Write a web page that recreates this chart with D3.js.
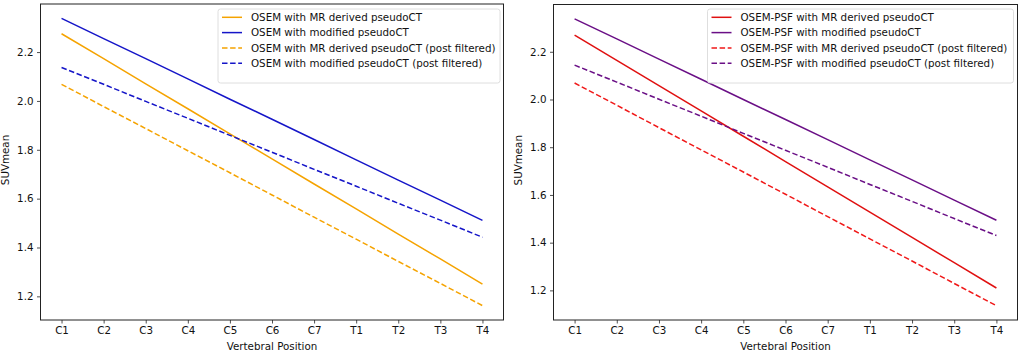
<!DOCTYPE html>
<html lang="en">
<head>
  <meta charset="UTF-8">
  <title>SUVmean by vertebral position</title>
  <script src="https://cdn.jsdelivr.net/npm/d3@7"></script>
  <style>
    body { margin: 0; background: #fff; }
    svg text { font-family: "DejaVu Sans", sans-serif; fill: #111; }
  </style>
</head>
<body>
<script>
  const positions = ["C1", "C2", "C3", "C4", "C5", "C6", "C7", "T1", "T2", "T3", "T4"];
  const yTicks = [1.2, 1.4, 1.6, 1.8, 2.0, 2.2];

  // left panel: OSEM
  const osemMR = [2.275, 2.173, 2.070, 1.968, 1.865, 1.763, 1.660, 1.558, 1.455, 1.353, 1.250];
  const osemMod = [2.338, 2.255, 2.173, 2.090, 2.007, 1.925, 1.842, 1.759, 1.676, 1.594, 1.511];
  const osemMRpf = [2.068, 1.977, 1.887, 1.796, 1.706, 1.615, 1.524, 1.434, 1.343, 1.253, 1.162];
  const osemModpf = [2.137, 2.068, 1.998, 1.929, 1.859, 1.790, 1.720, 1.651, 1.581, 1.512, 1.442];

  // right panel: OSEM-PSF
  const psfMR = [2.270, 2.164, 2.058, 1.952, 1.846, 1.740, 1.634, 1.528, 1.422, 1.316, 1.210];
  const psfMod = [2.338, 2.254, 2.169, 2.085, 2.000, 1.916, 1.832, 1.747, 1.663, 1.578, 1.494];
  const psfMRpf = [2.069, 1.976, 1.882, 1.789, 1.696, 1.603, 1.509, 1.416, 1.323, 1.229, 1.136];
  const psfModpf = [2.144, 2.073, 2.001, 1.930, 1.858, 1.787, 1.716, 1.644, 1.573, 1.501, 1.430];

  const leftSeries = [
    {name: "OSEM with MR derived pseudoCT", values: osemMR, color: "#f5a300", dash: null},
    {name: "OSEM with modified pseudoCT", values: osemMod, color: "#1515c8", dash: null},
    {name: "OSEM with MR derived pseudoCT (post filtered)", values: osemMRpf, color: "#f5a300", dash: "5.5,2.6"},
    {name: "OSEM with modified pseudoCT (post filtered)", values: osemModpf, color: "#1515c8", dash: "5.5,2.6"}
  ];
  const rightSeries = [
    {name: "OSEM-PSF with MR derived pseudoCT", values: psfMR, color: "#e01010", dash: null},
    {name: "OSEM-PSF with modified pseudoCT", values: psfMod, color: "#6a0f86", dash: null},
    {name: "OSEM-PSF with MR derived pseudoCT (post filtered)", values: psfMRpf, color: "#f01818", dash: "5.5,2.6"},
    {name: "OSEM-PSF with modified pseudoCT (post filtered)", values: psfModpf, color: "#6a0f86", dash: "5.5,2.6"}
  ];

  const W = 1022, H = 354;
  const svg = d3.select("body").append("svg").attr("width", W).attr("height", H);

  function drawPanel(box, series, legendBox) {
    const g = svg.append("g");
    const x = d3.scalePoint().domain(positions).range([box.x0, box.x1]).padding(0.5);

    // matplotlib style 5% margins
    const all = series.flatMap(s => s.values);
    const lo = d3.min(all), hi = d3.max(all), pad = (hi - lo) * 0.05;
    const y = d3.scaleLinear().domain([lo - pad, hi + pad]).range([box.y1, box.y0]);

    const line = d3.line().x((d, i) => x(positions[i])).y(d => y(d));

    series.forEach(s => {
      g.append("path")
        .datum(s.values)
        .attr("d", line)
        .attr("fill", "none")
        .attr("stroke", s.color)
        .attr("stroke-width", 1.5)
        .attr("stroke-dasharray", s.dash);
    });

    const xAxis = g.append("g")
      .attr("transform", "translate(0," + box.y1 + ")")
      .call(d3.axisBottom(x).tickSizeOuter(0).tickSize(3.5).tickPadding(3.5));
    const yAxis = g.append("g")
      .attr("transform", "translate(" + box.x0 + ",0)")
      .call(d3.axisLeft(y).tickValues(yTicks).tickFormat(d3.format(".1f")).tickSizeOuter(0).tickSize(3.5).tickPadding(3.5));
    [xAxis, yAxis].forEach(a => {
      a.select(".domain").remove();
      a.selectAll("line").attr("stroke", "#222").attr("stroke-width", 0.8);
      a.selectAll("text").attr("font-size", "10.3px").attr("fill", "#111");
    });

    g.append("rect")
      .attr("x", box.x0).attr("y", box.y0)
      .attr("width", box.x1 - box.x0).attr("height", box.y1 - box.y0)
      .attr("fill", "none").attr("stroke", "#222").attr("stroke-width", 1);

    g.append("text")
      .attr("x", (box.x0 + box.x1) / 2).attr("y", 349.5)
      .attr("text-anchor", "middle").attr("font-size", "10.3px")
      .text("Vertebral Position");
    g.append("text")
      .attr("transform", "translate(" + (box.x0 - 32) + "," + ((box.y0 + box.y1) / 2 - 2) + ") rotate(-90)")
      .attr("text-anchor", "middle").attr("font-size", "10.3px")
      .text("SUVmean");

    // legend
    const lg = g.append("g");
    lg.append("rect")
      .attr("x", legendBox.x).attr("y", legendBox.y)
      .attr("width", legendBox.w).attr("height", legendBox.h)
      .attr("rx", 2.5)
      .attr("fill", "#fff").attr("fill-opacity", 0.8)
      .attr("stroke", "#d6d6d6").attr("stroke-width", 0.8);
    series.forEach((s, i) => {
      const ly = legendBox.y + 8.3 + i * 15.3;
      lg.append("line")
        .attr("x1", legendBox.x + 4).attr("x2", legendBox.x + 24)
        .attr("y1", ly).attr("y2", ly)
        .attr("stroke", s.color).attr("stroke-width", 1.5)
        .attr("stroke-dasharray", s.dash);
      lg.append("text")
        .attr("x", legendBox.x + 33).attr("y", ly)
        .attr("dy", "0.35em").attr("font-size", "10.3px")
        .text(s.name);
    });
  }

  drawPanel({x0: 40.5, x1: 503.5, y0: 4, y1: 320}, leftSeries, {x: 218, y: 9, w: 282, h: 74});
  drawPanel({x0: 553.5, x1: 1017.5, y0: 4.5, y1: 320}, rightSeries, {x: 707.5, y: 9, w: 306, h: 74});
</script>
</body>
</html>
